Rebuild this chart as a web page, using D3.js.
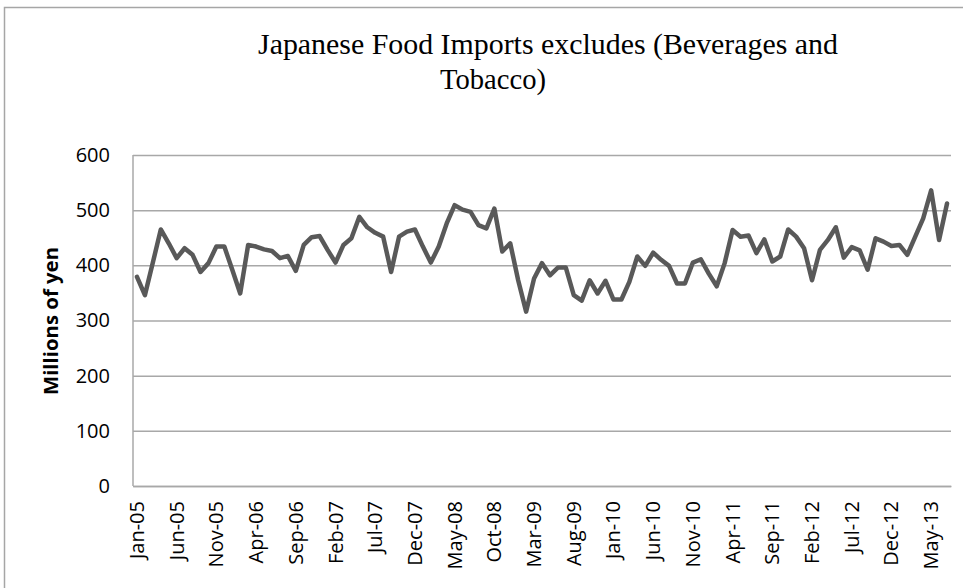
<!DOCTYPE html>
<html>
<head>
<meta charset="utf-8">
<script src="https://cdn.jsdelivr.net/npm/d3@7"></script>
<style>
  html, body { margin: 0; padding: 0; background: #fff; }
  svg { display: block; }
</style>
</head>
<body>
<svg id="chart" width="963" height="588"></svg>
<script>
// ---- Data ----
const titleLines = ["Japanese Food Imports excludes (Beverages and", "Tobacco)"];
const yAxisTitle = "Millions of yen";
const categories = [
  "Jan-05","Feb-05","Mar-05","Apr-05","May-05","Jun-05","Jul-05","Aug-05","Sep-05","Oct-05","Nov-05","Dec-05",
  "Jan-06","Feb-06","Mar-06","Apr-06","May-06","Jun-06","Jul-06","Aug-06","Sep-06","Oct-06","Nov-06","Dec-06",
  "Jan-07","Feb-07","Mar-07","Apr-07","May-07","Jun-07","Jul-07","Aug-07","Sep-07","Oct-07","Nov-07","Dec-07",
  "Jan-08","Feb-08","Mar-08","Apr-08","May-08","Jun-08","Jul-08","Aug-08","Sep-08","Oct-08","Nov-08","Dec-08",
  "Jan-09","Feb-09","Mar-09","Apr-09","May-09","Jun-09","Jul-09","Aug-09","Sep-09","Oct-09","Nov-09","Dec-09",
  "Jan-10","Feb-10","Mar-10","Apr-10","May-10","Jun-10","Jul-10","Aug-10","Sep-10","Oct-10","Nov-10","Dec-10",
  "Jan-11","Feb-11","Mar-11","Apr-11","May-11","Jun-11","Jul-11","Aug-11","Sep-11","Oct-11","Nov-11","Dec-11",
  "Jan-12","Feb-12","Mar-12","Apr-12","May-12","Jun-12","Jul-12","Aug-12","Sep-12","Oct-12","Nov-12","Dec-12",
  "Jan-13","Feb-13","Mar-13","Apr-13","May-13","Jun-13","Jul-13"
];
const imports = [
  379,346,405,465,440,413,431,419,388,404,434,434,
  392,349,437,434,429,426,413,417,390,437,451,453,
  428,405,437,449,488,469,459,452,388,452,461,465,
  434,405,434,476,509,501,497,473,467,503,425,440,
  373,316,376,404,382,396,396,346,336,373,349,372,
  338,338,370,416,399,423,410,399,367,367,405,411,
  385,362,404,464,452,454,422,447,407,416,465,452,
  431,373,428,446,469,414,433,427,392,449,443,435,
  437,419,452,485,536,446,512
];
const yTicks = [0, 100, 200, 300, 400, 500, 600];
const xTickLabels = categories.filter((d, i) => i % 5 === 0);

// ---- Layout ----
const svg = d3.select("#chart");
const plot = { left: 133, right: 951, top: 155, bottom: 486 };
const sans = "'Open Sans', 'Liberation Sans', sans-serif";

// outer chart border
svg.append("rect")
  .attr("x", 4.5).attr("y", 7.5)
  .attr("width", 980).attr("height", 620)
  .attr("fill", "none").attr("stroke", "#a6a6a6").attr("stroke-width", 1.5);

const x = d3.scaleBand().domain(categories).range([plot.left, plot.right]).padding(0);
const y = d3.scaleLinear().domain([0, 600]).range([plot.bottom, plot.top]);

// gridlines via axis
const yGrid = svg.append("g")
  .attr("transform", `translate(${plot.left},0)`)
  .call(d3.axisLeft(y).tickValues(yTicks).tickSize(-(plot.right - plot.left)).tickFormat(""));
yGrid.select(".domain").remove();
yGrid.selectAll(".tick line").attr("stroke", "#a8a8a8").attr("stroke-width", 1.5);

// y tick labels
const yAxis = svg.append("g")
  .attr("transform", `translate(${plot.left},0)`)
  .call(d3.axisLeft(y).tickValues(yTicks).tickSize(0).tickPadding(23));
yAxis.select(".domain").remove();
yAxis.selectAll("text")
  .attr("font-family", sans)
  .attr("font-size", 20).attr("fill", "#000");

// left axis line
svg.append("line")
  .attr("x1", plot.left).attr("x2", plot.left)
  .attr("y1", plot.top).attr("y2", plot.bottom)
  .attr("stroke", "#a8a8a8").attr("stroke-width", 1.5);

// x axis
const xAxis = svg.append("g")
  .attr("transform", `translate(0,${plot.bottom})`)
  .call(d3.axisBottom(x).tickValues(xTickLabels).tickSize(0));
xAxis.select(".domain").attr("stroke", "#a8a8a8").attr("stroke-width", 1.5);
xAxis.selectAll("text")
  .attr("font-family", sans)
  .attr("font-size", 20).attr("fill", "#000")
  .attr("text-anchor", "end")
  .attr("transform", "rotate(-90)")
  .attr("x", -15).attr("y", 0).attr("dy", "0.35em");

// line
const line = d3.line()
  .x((d, i) => x(categories[i]) + x.bandwidth() / 2)
  .y(d => y(d));
svg.append("path")
  .datum(imports)
  .attr("d", line)
  .attr("fill", "none")
  .attr("stroke", "#595959")
  .attr("stroke-width", 4.5)
  .attr("stroke-linejoin", "round")
  .attr("stroke-linecap", "round");

// title
const t = svg.append("g")
  .attr("font-family", "'Liberation Serif', 'Times New Roman', serif")
  .attr("font-size", 29).attr("fill", "#000");
t.append("text").attr("x", 548).attr("y", 54).attr("text-anchor", "middle")
  .attr("textLength", 580).attr("lengthAdjust", "spacingAndGlyphs").text(titleLines[0]);
t.append("text").attr("x", 493).attr("y", 89).attr("text-anchor", "middle")
  .attr("textLength", 106).attr("lengthAdjust", "spacingAndGlyphs").text(titleLines[1]);

// y axis title
svg.append("text")
  .attr("transform", "translate(58,321) rotate(-90)")
  .attr("text-anchor", "middle")
  .attr("font-family", sans)
  .attr("font-weight", "bold")
  .attr("font-size", 19).attr("fill", "#000")
  .attr("textLength", 148).attr("lengthAdjust", "spacingAndGlyphs")
  .text(yAxisTitle);
</script>
</body>
</html>
